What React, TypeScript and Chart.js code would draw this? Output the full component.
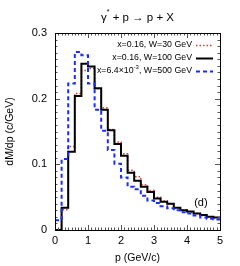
import React, { useEffect, useRef } from "react";
import { Chart, registerables } from "chart.js";

Chart.register(...registerables);

// bin edges in p (GeV/c)
const binEdges = [0, 0.2, 0.4, 0.6, 0.8, 1.0, 1.2, 1.4, 1.6, 1.8, 2.0, 2.2, 2.4, 2.6, 2.8, 3.0, 3.2, 3.4, 3.6, 3.8, 4.0, 4.2, 4.4, 4.6, 4.8, 5.0];
const xTickValues = [0, 1, 2, 3, 4, 5];
const yTickValues = [0, 0.1, 0.2, 0.3];

// dM/dp per bin (c/GeV)
const seriesW30 = [0, 0.031, 0.127, 0.208, 0.243, 0.246, 0.215, 0.186, 0.153, 0.134, 0.116, 0.091, 0.081, 0.069, 0.060, 0.050, 0.044, 0.040, 0.034, 0.030, 0.027, 0.025, 0.022, 0.020, 0.019];
const seriesW100 = [0, 0.034, 0.119, 0.204, 0.253, 0.249, 0.216, 0.183, 0.152, 0.131, 0.113, 0.087, 0.075, 0.066, 0.058, 0.048, 0.043, 0.040, 0.034, 0.030, 0.028, 0.025, 0.023, 0.020, 0.019];
const seriesW500 = [0.015, 0.108, 0.223, 0.271, 0.266, 0.223, 0.183, 0.151, 0.122, 0.101, 0.080, 0.066, 0.062, 0.052, 0.045, 0.041, 0.036, 0.033, 0.030, 0.027, 0.025, 0.022, 0.019, 0.017, 0.016];

const legendLabels: [string, string, string][] = [
  ["x=0.16, W=30 GeV", "", ""],
  ["x=0.16, W=100 GeV", "", ""],
  ["x=6.4\u00d710", "-3", ", W=500 GeV"],
];
const titleParts = ["\u03b3", "*", " + p \u2192 p + X"];
const panelLabel = "(d)";
const xTitle = "p (GeV/c)";
const yTitle = "dM/dp (c/GeV)";

const FONT = "'Liberation Sans', Arial, Helvetica, sans-serif";

function toSteps(values: number[]) {
  const pts = values.map((v, i) => ({ x: binEdges[i], y: v }));
  pts.push({ x: binEdges[binEdges.length - 1], y: values[values.length - 1] });
  return pts;
}

const decorPlugin = {
  id: "decor",
  afterDraw(chart: any) {
    const { ctx, chartArea } = chart;
    const { left, right, top, bottom } = chartArea;
    const xs = chart.scales.x;
    const ys = chart.scales.y;
    ctx.save();
    // ticks (inward, mirrored)
    ctx.strokeStyle = "#555";
    ctx.lineWidth = 1;
    ctx.beginPath();
    for (let i = 0; i <= 50; i++) {
      const v = i / 10;
      const px = Math.round(xs.getPixelForValue(v)) + 0.5;
      const len = i % 10 === 0 ? 5 : 2.5;
      ctx.moveTo(px, bottom);
      ctx.lineTo(px, bottom - len);
      ctx.moveTo(px, top);
      ctx.lineTo(px, top + len);
    }
    for (let i = 0; i <= 30; i++) {
      const v = i / 100;
      const py = Math.round(ys.getPixelForValue(v)) + 0.5;
      const len = i % 10 === 0 ? 5 : 2.5;
      ctx.moveTo(left, py);
      ctx.lineTo(left + len, py);
      ctx.moveTo(right, py);
      ctx.lineTo(right - len, py);
    }
    ctx.stroke();
    // frame
    ctx.strokeStyle = "#000";
    ctx.lineWidth = 1;
    ctx.strokeRect(Math.round(left) + 0.5, Math.round(top) + 0.5, Math.round(right - left), Math.round(bottom - top));

    // legend
    const ds = chart.data.datasets;
    const rowY = [45, 58, 71];
    const textRight = 192;
    [0, 1, 2].forEach((di, r) => {
      const d = ds[di];
      const [a, sup, b] = legendLabels[r];
      const y = rowY[r];
      ctx.fillStyle = "#000";
      ctx.textBaseline = "middle";
      ctx.textAlign = "left";
      ctx.font = `8.8px ${FONT}`;
      const wa = ctx.measureText(a).width;
      const wb = ctx.measureText(b).width;
      ctx.font = `6px ${FONT}`;
      const ws = ctx.measureText(sup).width;
      let x = textRight - wa - ws - wb;
      ctx.font = `8.8px ${FONT}`;
      ctx.fillText(a, x, y);
      x += wa;
      if (sup) {
        ctx.font = `6px ${FONT}`;
        ctx.fillText(sup, x, y - 3.5);
        x += ws;
        ctx.font = `8.8px ${FONT}`;
      }
      if (b) ctx.fillText(b, x, y);
      ctx.strokeStyle = d.borderColor;
      ctx.lineWidth = d.borderWidth;
      ctx.setLineDash(d.borderDash || []);
      ctx.beginPath();
      ctx.moveTo(196, y + 0.5);
      ctx.lineTo(213, y + 0.5);
      ctx.stroke();
      ctx.setLineDash([]);
    });

    // title
    ctx.fillStyle = "#000";
    ctx.textBaseline = "middle";
    ctx.textAlign = "left";
    ctx.font = `11.5px ${FONT}`;
    const w0 = ctx.measureText(titleParts[0]).width;
    const w2 = ctx.measureText(titleParts[2]).width;
    ctx.font = `7px ${FONT}`;
    const w1 = ctx.measureText(titleParts[1]).width;
    const cx = (left + right) / 2;
    let tx = cx - (w0 + w1 + w2) / 2;
    ctx.font = `11.5px ${FONT}`;
    ctx.fillText(titleParts[0], tx, 18);
    tx += w0;
    ctx.font = `7px ${FONT}`;
    ctx.fillText(titleParts[1], tx, 12);
    tx += w1;
    ctx.font = `11.5px ${FONT}`;
    ctx.fillText(titleParts[2], tx, 18);

    // panel label
    ctx.textAlign = "center";
    ctx.font = `11px ${FONT}`;
    ctx.fillText(panelLabel, xs.getPixelForValue(4.42), ys.getPixelForValue(0.041));
    ctx.restore();
  },
};

export default function App() {
  const ref = useRef<HTMLCanvasElement | null>(null);
  useEffect(() => {
    if (!ref.current) return;
    const chart = new Chart(ref.current, {
      type: "line",
      data: {
        datasets: [
          {
            label: legendLabels[0].join(""),
            data: toSteps(seriesW30),
            stepped: "before",
            borderColor: "#c8413c",
            borderWidth: 1.5,
            borderDash: [1.5, 2],
            pointRadius: 0,
            fill: false,
            order: 3,
          },
          {
            label: legendLabels[1].join(""),
            data: toSteps(seriesW100),
            stepped: "before",
            borderColor: "#000000",
            borderWidth: 2,
            pointRadius: 0,
            fill: false,
            order: 2,
          },
          {
            label: legendLabels[2].join(""),
            data: toSteps(seriesW500),
            stepped: "before",
            borderColor: "#1a2cff",
            borderWidth: 2,
            borderDash: [4, 3],
            pointRadius: 0,
            fill: false,
            order: 1,
          },
        ],
      },
      options: {
        animation: false,
        responsive: false,
        devicePixelRatio: 1,
        layout: { padding: { top: 33, right: 20, left: 0, bottom: 0 } },
        plugins: { legend: { display: false }, tooltip: { enabled: false }, title: { display: false } },
        scales: {
          x: {
            type: "linear",
            min: 0,
            max: 5,
            grid: { display: false, drawTicks: false },
            border: { display: false },
            afterBuildTicks: (s: any) => {
              s.ticks = xTickValues.map((v) => ({ value: v }));
            },
            afterFit: (s: any) => {
              s.height = 36;
            },
            ticks: {
              color: "#000",
              padding: 4,
              maxRotation: 0,
              font: { family: FONT, size: 11 },
              callback: (v: any) => String(v),
            },
            title: {
              display: true,
              text: xTitle,
              color: "#000",
              font: { family: FONT, size: 10.5 },
              padding: { top: 0, bottom: 2 },
            },
          },
          y: {
            type: "linear",
            min: 0,
            max: 0.3,
            grid: { display: false, drawTicks: false },
            border: { display: false },
            afterBuildTicks: (s: any) => {
              s.ticks = yTickValues.map((v) => ({ value: v }));
            },
            afterFit: (s: any) => {
              s.width = 55;
            },
            ticks: {
              color: "#000",
              padding: 8,
              font: { family: FONT, size: 11 },
              callback: (v: any) => (Number(v) === 0 ? "0" : Number(v).toFixed(1)),
            },
            title: {
              display: true,
              text: yTitle,
              color: "#000",
              font: { family: FONT, size: 10.5 },
              padding: { top: 4, bottom: 0 },
            },
          },
        },
      },
      plugins: [decorPlugin],
    } as any);
    return () => chart.destroy();
  }, []);
  return (
    <div style={{ position: "fixed", left: 0, top: 0, width: 240, height: 266, background: "#fff" }}>
      <canvas ref={ref} width={240} height={266} style={{ display: "block", width: 240, height: 266 }} />
    </div>
  );
}
